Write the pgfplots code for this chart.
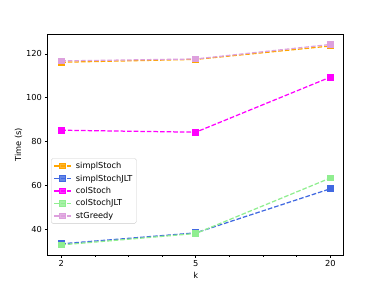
\documentclass[border=0pt]{standalone}
\usepackage{fontspec}
\setmainfont{DejaVu Sans}
\usepackage{pgfplots}
\pgfplotsset{compat=1.18}
\definecolor{cor}{HTML}{FFA500}
\definecolor{cbl}{HTML}{4169E1}
\definecolor{cma}{HTML}{FF00FF}
\definecolor{cgr}{HTML}{90EE90}
\definecolor{cpl}{HTML}{DDA0DD}
\begin{document}
\begin{tikzpicture}
\path[use as bounding box] (-57.6bp,-38.0bp) rectangle (403.2bp,307.6bp);
\begin{axis}[
  at={(0,0)}, anchor=south west,
  scale only axis, width=357.12bp, height=266.11bp,
  xmin=-0.1, xmax=2.1, ymin=28.3, ymax=128.9,
  xtick={0,1,2}, xticklabels={2,5,20},
  minor xtick={0.25,0.5,0.75,1.25,1.5,1.75},
  ytick={40,60,80,100,120},
  /pgf/number format/assume math mode=true,
  tick align=outside, tick pos=left,
  major tick length=3.5bp, minor tick length=2bp,
  every tick/.style={black, line width=0.8bp},
  axis line style={line width=0.8bp},
  font=\fontsize{10}{12}\selectfont,
  tick label style={font=\fontsize{10}{12}\selectfont},
  label style={font=\fontsize{10}{12}\selectfont},
  xlabel={k}, ylabel={Time (s)},
  xlabel style={yshift=1bp},
  ylabel style={yshift=-2bp},
  every axis plot/.append style={line width=1.5bp, dash pattern=on 5.55bp off 2.4bp, mark=square*, mark size=3.3bp, mark options={solid}},
  legend style={at={(0.011,0.438)}, anchor=north west, draw=black!20, rounded corners=2bp, fill=white, fill opacity=0.8, text opacity=1, font=\fontsize{10}{12}\selectfont, row sep=2.0bp, inner xsep=3bp, inner ysep=2.5bp},
  legend cell align=left,
  legend image code/.code={\draw[mark repeat=2,mark phase=2,#1] plot coordinates {(0bp,0bp) (10bp,0bp) (20bp,0bp)}; \path[draw=none,fill=none] (24bp,0bp) circle (0.1bp);},
]
\addplot[color=cor] coordinates {(0,116.2) (1,117.5) (2,123.6)};
\addlegendentry{simplStoch}
\addplot[color=cbl] coordinates {(0,33.4) (1,38.4) (2,58.5)};
\addlegendentry{simplStochJLT}
\addplot[color=cma] coordinates {(0,85.2) (1,84.3) (2,109.4)};
\addlegendentry{colStoch}
\addplot[color=cgr] coordinates {(0,32.9) (1,38.1) (2,63.4)};
\addlegendentry{colStochJLT}
\addplot[color=cpl] coordinates {(0,116.8) (1,117.7) (2,124.3)};
\addlegendentry{stGreedy}
\end{axis}
\end{tikzpicture}
\end{document}
